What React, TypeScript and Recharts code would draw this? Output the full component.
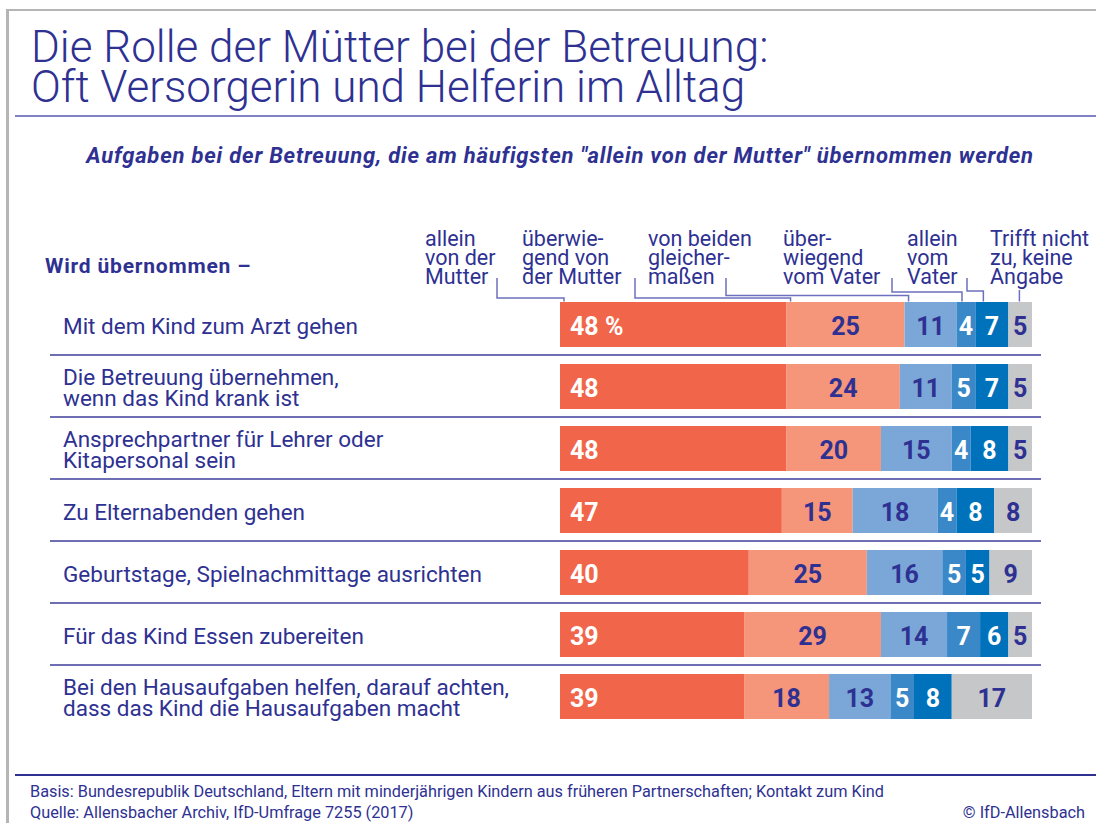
import { Bar, BarChart, LabelList, XAxis, YAxis } from "recharts";

const NAVY = "#2e3192";
const FONT = "Roboto, 'Noto Sans', sans-serif";

// Aufgaben (Zeilen), "\n" = Zeilenumbruch im Label
const TASKS = [
  "Mit dem Kind zum Arzt gehen",
  "Die Betreuung übernehmen,\nwenn das Kind krank ist",
  "Ansprechpartner für Lehrer oder\nKitapersonal sein",
  "Zu Elternabenden gehen",
  "Geburtstage, Spielnachmittage ausrichten",
  "Für das Kind Essen zubereiten",
  "Bei den Hausaufgaben helfen, darauf achten,\ndass das Kind die Hausaufgaben macht",
];

// Werte in %
const ALLEIN_MUTTER = [48, 48, 48, 47, 40, 39, 39];
const UEBERW_MUTTER = [25, 24, 20, 15, 25, 29, 18];
const BEIDE = [11, 11, 15, 18, 16, 14, 13];
const UEBERW_VATER = [4, 5, 4, 4, 5, 7, 5];
const ALLEIN_VATER = [7, 7, 8, 8, 5, 6, 8];
const KEINE_ANGABE = [5, 5, 5, 8, 9, 5, 17];

const HEADS = [
  "allein\nvon der\nMutter",
  "überwie-\ngend von\nder Mutter",
  "von beiden\ngleicher-\nmaßen",
  "über-\nwiegend\nvom Vater",
  "allein\nvom\nVater",
  "Trifft nicht\nzu, keine\nAngabe",
];

const SERIES = [
  { key: "am", values: ALLEIN_MUTTER, fill: "#f1664a", text: "#ffffff" },
  { key: "um", values: UEBERW_MUTTER, fill: "#f5967a", text: NAVY },
  { key: "bg", values: BEIDE, fill: "#7ba7d8", text: NAVY },
  { key: "uv", values: UEBERW_VATER, fill: "#3b88c8", text: "#ffffff" },
  { key: "av", values: ALLEIN_VATER, fill: "#0072bc", text: "#ffffff" },
  { key: "ka", values: KEINE_ANGABE, fill: "#c6c7c9", text: NAVY },
];

const data = TASKS.map((name, i) => {
  const row: Record<string, string | number> = { name };
  SERIES.forEach((s) => (row[s.key] = s.values[i]));
  return row;
});

// Layout
const W = 1096;
const H = 823;
const MARGIN = { top: 293, right: 64, bottom: 96, left: 60 };
const Y_AXIS_W = 500;
const PLOT_LEFT = MARGIN.left + Y_AXIS_W;
const PLOT_W = W - PLOT_LEFT - MARGIN.right;
const ROW = (H - MARGIN.top - MARGIN.bottom) / TASKS.length;

// Verbindungslinien Kopf -> Segment der ersten Zeile
const HEAD_X = [425, 522, 648, 783, 907, 990];
const CONN_START_X = [497, 635, 726, 892, 967, null];
const CONN_ELBOW_Y = [298, 298, 295.5, 292, 291, null];
const CONN_OFFSET = [4, 4, 4, 5.5, 8, 11];

function TaskTick(props: any) {
  const { y, payload } = props;
  const lines = String(payload.value).split("\n");
  const idx = payload.index;
  const base = lines.length === 1 ? y + 10 : y - 1;
  return (
    <g>
      <text fill={NAVY} fontSize={22.5} fontFamily={FONT}>
        {lines.map((l, i) => (
          <tspan key={i} x={63} y={base + i * 21}>
            {l}
          </tspan>
        ))}
      </text>
      {idx < TASKS.length - 1 && (
        <line x1={50} x2={1041} y1={y + ROW / 2} y2={y + ROW / 2} stroke="#3e3f98" strokeWidth={1.5} />
      )}
    </g>
  );
}

function valueLabel(seriesIndex: number, color: string) {
  return (props: any) => {
    const { x, y, width, height, value, index } = props;
    const first = seriesIndex === 0;
    const txt = first && index === 0 ? `${value} %` : String(value);
    return (
      <text
        x={first ? x + 10 : x + width / 2}
        y={y + height / 2 + 10.5}
        textAnchor={first ? "start" : "middle"}
        fill={color}
        fontSize={25}
        fontWeight={700}
        fontFamily={FONT}
      >
        {txt}
      </text>
    );
  };
}

function Connectors() {
  const first = SERIES.map((s) => s.values[0]);
  const barTop = MARGIN.top + (ROW - 45) / 2;
  let cum = 0;
  const paths = first.map((v, i) => {
    const tx = PLOT_LEFT + (cum / 100) * PLOT_W + CONN_OFFSET[i];
    cum += v;
    const sx = CONN_START_X[i];
    const ey = CONN_ELBOW_Y[i];
    const d =
      sx == null || ey == null
        ? `M${tx},290 L${tx},${barTop}`
        : `M${sx},278 L${sx},${ey} L${tx},${ey} L${tx},${barTop}`;
    return <path key={i} d={d} fill="none" stroke="#6d70bd" strokeWidth={1.5} />;
  });
  return (
    <svg width={W} height={H} style={{ position: "absolute", left: 0, top: 0, pointerEvents: "none" }}>
      {HEADS.map((h, i) => (
        <text key={i} fill={NAVY} fontSize={21.5} fontFamily={FONT}>
          {h.split("\n").map((l, j) => (
            <tspan key={j} x={HEAD_X[i]} y={246 + j * 19}>
              {l}
            </tspan>
          ))}
        </text>
      ))}
      {paths}
    </svg>
  );
}

export default function App() {
  return (
    <div
      style={{
        position: "absolute",
        left: 0,
        top: 0,
        width: W,
        height: H,
        background: "#fff",
        fontFamily: FONT,
        color: NAVY,
        overflow: "hidden",
      }}
    >
      {/* Rahmen */}
      <div style={{ position: "absolute", left: 6, top: 9, width: 3, height: H, background: "#b5b5b5" }} />
      <div style={{ position: "absolute", left: 6, top: 9, width: W, height: 2, background: "#b5b5b5" }} />

      <div
        style={{
          position: "absolute",
          left: 31,
          top: 27,
          fontSize: 44,
          fontWeight: 300,
          lineHeight: "40px",
          whiteSpace: "nowrap",
        }}
      >
        Die Rolle der Mütter bei der Betreuung:
        <br />
        Oft Versorgerin und Helferin im Alltag
      </div>
      <div style={{ position: "absolute", left: 15, top: 115, width: W, height: 2, background: "#7f82c6" }} />

      <div
        style={{
          position: "absolute",
          left: 0,
          width: 1120,
          top: 143,
          textAlign: "center",
          fontSize: 22,
          letterSpacing: 0.8,
          fontWeight: 700,
          fontStyle: "italic",
          whiteSpace: "nowrap",
        }}
      >
        Aufgaben bei der Betreuung, die am häufigsten "allein von der Mutter" übernommen werden
      </div>

      <div style={{ position: "absolute", left: 45, top: 254, fontSize: 21, letterSpacing: 0.8, fontWeight: 700 }}>
        Wird übernommen –
      </div>

      <div style={{ position: "absolute", left: 0, top: 0 }}>
        <BarChart width={W} height={H} data={data} layout="vertical" margin={MARGIN}>
          <XAxis type="number" domain={[0, 100]} hide />
          <YAxis
            type="category"
            dataKey="name"
            width={Y_AXIS_W}
            axisLine={false}
            tickLine={false}
            tick={<TaskTick />}
            interval={0}
          />
          {SERIES.map((s, i) => (
            <Bar key={s.key} dataKey={s.key} stackId="a" fill={s.fill} barSize={45} isAnimationActive={false}>
              <LabelList dataKey={s.key} content={valueLabel(i, s.text)} />
            </Bar>
          ))}
        </BarChart>
      </div>

      <Connectors />

      <div style={{ position: "absolute", left: 15, top: 774, width: W, height: 1.5, background: NAVY }} />
      <div style={{ position: "absolute", left: 30, top: 781, fontSize: 16.3, lineHeight: "21px", whiteSpace: "nowrap" }}>
        Basis: Bundesrepublik Deutschland, Eltern mit minderjährigen Kindern aus früheren Partnerschaften; Kontakt zum
        Kind
        <br />
        Quelle: Allensbacher Archiv, IfD-Umfrage 7255 (2017)
      </div>
      <div style={{ position: "absolute", right: 11, top: 802, fontSize: 16.3, lineHeight: "21px" }}>© IfD-Allensbach</div>
    </div>
  );
}
